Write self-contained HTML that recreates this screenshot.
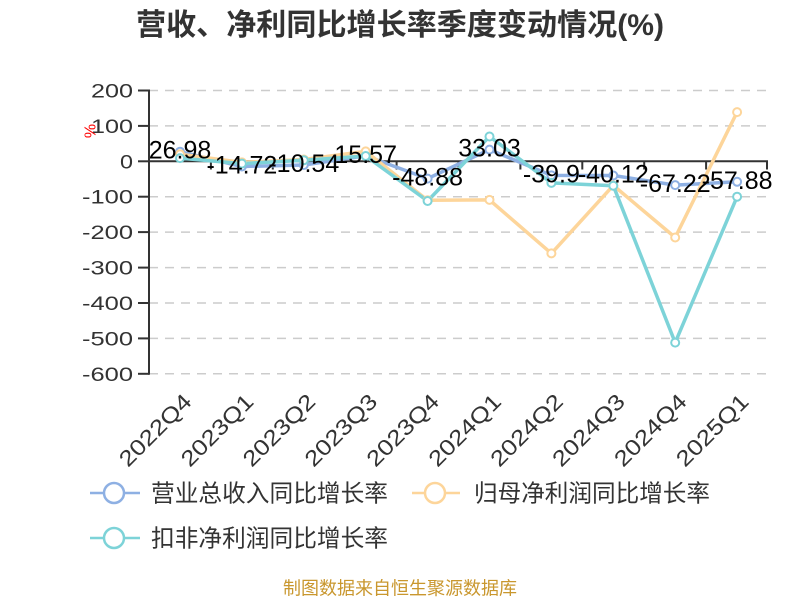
<!DOCTYPE html>
<html>
<head>
<meta charset="utf-8">
<style>
html,body{margin:0;padding:0;background:#fff;}
svg{display:block;}
text{font-family:"Liberation Sans","Noto Sans CJK SC",sans-serif;}
.cjk{font-family:"Noto Sans CJK SC","WenQuanYi Zen Hei",sans-serif;}
</style>
</head>
<body>
<svg width="800" height="600" viewBox="0 0 800 600" xmlns="http://www.w3.org/2000/svg">
  <rect width="800" height="600" fill="#fff"/>
  <!-- Title -->
  <text x="400" y="35" text-anchor="middle" font-size="30" font-weight="bold" fill="#333" class="cjk" style="font-family:'Liberation Sans','Noto Sans CJK SC',sans-serif" textLength="528" lengthAdjust="spacingAndGlyphs">营收、净利同比增长率季度变动情况(%)</text>

  <!-- Grid lines -->
  <g stroke="#cccccc" stroke-width="1.5" stroke-dasharray="9,7" fill="none">
    <line x1="149" y1="90.5" x2="768" y2="90.5"/>
    <line x1="149" y1="125.9" x2="768" y2="125.9"/>
    <line x1="149" y1="196.7" x2="768" y2="196.7"/>
    <line x1="149" y1="232.1" x2="768" y2="232.1"/>
    <line x1="149" y1="267.6" x2="768" y2="267.6"/>
    <line x1="149" y1="303" x2="768" y2="303"/>
    <line x1="149" y1="338.4" x2="768" y2="338.4"/>
    <line x1="149" y1="373.8" x2="768" y2="373.8"/>
  </g>

  <!-- Y axis -->
  <g stroke="#333" stroke-width="2">
    <line x1="149" y1="89.5" x2="149" y2="374.8"/>
    <line x1="138" y1="90.5" x2="149" y2="90.5"/>
    <line x1="138" y1="125.9" x2="149" y2="125.9"/>
    <line x1="138" y1="161.3" x2="149" y2="161.3"/>
    <line x1="138" y1="196.7" x2="149" y2="196.7"/>
    <line x1="138" y1="232.1" x2="149" y2="232.1"/>
    <line x1="138" y1="267.6" x2="149" y2="267.6"/>
    <line x1="138" y1="303" x2="149" y2="303"/>
    <line x1="138" y1="338.4" x2="149" y2="338.4"/>
    <line x1="138" y1="373.8" x2="149" y2="373.8"/>
  </g>
  <g font-size="19.5" fill="#333" text-anchor="end" lengthAdjust="spacingAndGlyphs">
    <text x="133" y="97.5" textLength="42" lengthAdjust="spacingAndGlyphs">200</text>
    <text x="133" y="132.9" textLength="42" lengthAdjust="spacingAndGlyphs">100</text>
    <text x="133" y="168.3" textLength="13" lengthAdjust="spacingAndGlyphs">0</text>
    <text x="133" y="203.7" textLength="51" lengthAdjust="spacingAndGlyphs">-100</text>
    <text x="133" y="239.1" textLength="51" lengthAdjust="spacingAndGlyphs">-200</text>
    <text x="133" y="274.6" textLength="51" lengthAdjust="spacingAndGlyphs">-300</text>
    <text x="133" y="310" textLength="51" lengthAdjust="spacingAndGlyphs">-400</text>
    <text x="133" y="345.4" textLength="51" lengthAdjust="spacingAndGlyphs">-500</text>
    <text x="133" y="380.8" textLength="51" lengthAdjust="spacingAndGlyphs">-600</text>
  </g>
  <text transform="translate(91,131) rotate(-90)" font-size="16" fill="#ff0000" text-anchor="middle" dominant-baseline="central">%</text>

  <!-- X axis at zero -->
  <g stroke="#333" stroke-width="2">
    <line x1="149" y1="161.3" x2="768" y2="161.3"/>
    <line x1="210.9" y1="161.3" x2="210.9" y2="169.5"/>
    <line x1="272.8" y1="161.3" x2="272.8" y2="169.5"/>
    <line x1="334.7" y1="161.3" x2="334.7" y2="169.5"/>
    <line x1="396.6" y1="161.3" x2="396.6" y2="169.5"/>
    <line x1="458.5" y1="161.3" x2="458.5" y2="169.5"/>
    <line x1="520.4" y1="161.3" x2="520.4" y2="169.5"/>
    <line x1="582.3" y1="161.3" x2="582.3" y2="169.5"/>
    <line x1="644.2" y1="161.3" x2="644.2" y2="169.5"/>
    <line x1="706.1" y1="161.3" x2="706.1" y2="169.5"/>
    <line x1="767" y1="161.3" x2="767" y2="169.5"/>
  </g>

  <!-- X labels -->
  <g font-size="22" fill="#333" text-anchor="end">
    <text transform="translate(193,403) rotate(-45)" textLength="92" lengthAdjust="spacingAndGlyphs">2022Q4</text>
    <text transform="translate(254.9,403) rotate(-45)" textLength="92" lengthAdjust="spacingAndGlyphs">2023Q1</text>
    <text transform="translate(316.8,403) rotate(-45)" textLength="92" lengthAdjust="spacingAndGlyphs">2023Q2</text>
    <text transform="translate(378.7,403) rotate(-45)" textLength="92" lengthAdjust="spacingAndGlyphs">2023Q3</text>
    <text transform="translate(440.6,403) rotate(-45)" textLength="92" lengthAdjust="spacingAndGlyphs">2023Q4</text>
    <text transform="translate(502.5,403) rotate(-45)" textLength="92" lengthAdjust="spacingAndGlyphs">2024Q1</text>
    <text transform="translate(564.4,403) rotate(-45)" textLength="92" lengthAdjust="spacingAndGlyphs">2024Q2</text>
    <text transform="translate(626.3,403) rotate(-45)" textLength="92" lengthAdjust="spacingAndGlyphs">2024Q3</text>
    <text transform="translate(688.2,403) rotate(-45)" textLength="92" lengthAdjust="spacingAndGlyphs">2024Q4</text>
    <text transform="translate(750.1,403) rotate(-45)" textLength="92" lengthAdjust="spacingAndGlyphs">2025Q1</text>
  </g>

  <!-- Series: blue (营业总收入) -->
  <polyline fill="none" stroke="#8eb0e3" stroke-width="3.5" stroke-linejoin="round"
    points="180,151.7 241.9,166.5 303.8,165 365.7,155.8 427.6,178.6 489.5,149.6 551.4,175.4 613.3,175.5 675.2,185.1 737.1,181.8"/>
  <!-- Series: orange (归母净利润) -->
  <polyline fill="none" stroke="#fdd59a" stroke-width="3.5" stroke-linejoin="round"
    points="180,154.2 241.9,162.4 303.8,159.5 365.7,151.4 427.6,200.3 489.5,199.9 551.4,253.4 613.3,185.4 675.2,237.5 737.1,112.1"/>
  <!-- Series: teal (扣非净利润) -->
  <polyline fill="none" stroke="#7dd3d8" stroke-width="3.5" stroke-linejoin="round"
    points="180,158.1 241.9,163.6 303.8,160.2 365.7,156 427.6,201 489.5,136.5 551.4,182.9 613.3,185.7 675.2,342.6 737.1,196.7"/>

  <g fill="#fff" stroke="#8eb0e3" stroke-width="2">
    <circle cx="180" cy="151.7" r="4"/><circle cx="241.9" cy="166.5" r="4"/><circle cx="303.8" cy="165" r="4"/>
    <circle cx="365.7" cy="155.8" r="4"/><circle cx="427.6" cy="178.6" r="4"/><circle cx="489.5" cy="149.6" r="4"/>
    <circle cx="551.4" cy="175.4" r="4"/><circle cx="613.3" cy="175.5" r="4"/><circle cx="675.2" cy="185.1" r="4"/>
    <circle cx="737.1" cy="181.8" r="4"/>
  </g>
  <g fill="#fff" stroke="#fdd59a" stroke-width="2">
    <circle cx="180" cy="154.2" r="4"/><circle cx="241.9" cy="162.4" r="4"/><circle cx="303.8" cy="159.5" r="4"/>
    <circle cx="365.7" cy="151.4" r="4"/><circle cx="427.6" cy="200.3" r="4"/><circle cx="489.5" cy="199.9" r="4"/>
    <circle cx="551.4" cy="253.4" r="4"/><circle cx="613.3" cy="185.4" r="4"/><circle cx="675.2" cy="237.5" r="4"/>
    <circle cx="737.1" cy="112.1" r="4"/>
  </g>
  <g fill="#fff" stroke="#7dd3d8" stroke-width="2">
    <circle cx="180" cy="158.1" r="4"/><circle cx="241.9" cy="163.6" r="4"/><circle cx="303.8" cy="160.2" r="4"/>
    <circle cx="365.7" cy="156" r="4"/><circle cx="427.6" cy="201" r="4"/><circle cx="489.5" cy="136.5" r="4"/>
    <circle cx="551.4" cy="182.9" r="4"/><circle cx="613.3" cy="185.7" r="4"/><circle cx="675.2" cy="342.6" r="4"/>
    <circle cx="737.1" cy="196.7" r="4"/>
  </g>

  <!-- Data labels -->
  <g font-size="25" fill="#000" text-anchor="middle">
    <text x="180" y="158.7">26.98</text>
    <text x="241.9" y="173.5">-14.72</text>
    <text x="303.8" y="172">-10.54</text>
    <text x="365.7" y="162.8">15.57</text>
    <text x="427.6" y="185.6">-48.88</text>
    <text x="489.5" y="156.6">33.03</text>
    <text x="551.4" y="182.4">-39.9</text>
    <text x="613.3" y="182.5">-40.12</text>
    <text x="675.2" y="192.1">-67.22</text>
    <text x="737.1" y="188.8">-57.88</text>
  </g>

  <!-- Legend -->
  <g>
    <line x1="90" y1="493" x2="140" y2="493" stroke="#8eb0e3" stroke-width="2.5"/>
    <circle cx="114" cy="493" r="10" fill="#fff" stroke="#8eb0e3" stroke-width="2.5"/>
    <text x="151" y="501.5" font-size="24" fill="#333" class="cjk" textLength="237" lengthAdjust="spacingAndGlyphs">营业总收入同比增长率</text>

    <line x1="412" y1="493" x2="460" y2="493" stroke="#fdd59a" stroke-width="2.5"/>
    <circle cx="435" cy="493" r="10" fill="#fff" stroke="#fdd59a" stroke-width="2.5"/>
    <text x="474" y="501.5" font-size="24" fill="#333" class="cjk" textLength="236" lengthAdjust="spacingAndGlyphs">归母净利润同比增长率</text>

    <line x1="90" y1="538" x2="140" y2="538" stroke="#7dd3d8" stroke-width="2.5"/>
    <circle cx="114" cy="538" r="10" fill="#fff" stroke="#7dd3d8" stroke-width="2.5"/>
    <text x="151" y="546.5" font-size="24" fill="#333" class="cjk" textLength="237" lengthAdjust="spacingAndGlyphs">扣非净利润同比增长率</text>
  </g>

  <!-- Footer -->
  <text x="400" y="594.5" text-anchor="middle" font-size="18" fill="#c9972e" class="cjk" textLength="234" lengthAdjust="spacingAndGlyphs">制图数据来自恒生聚源数据库</text>
</svg>
</body>
</html>
